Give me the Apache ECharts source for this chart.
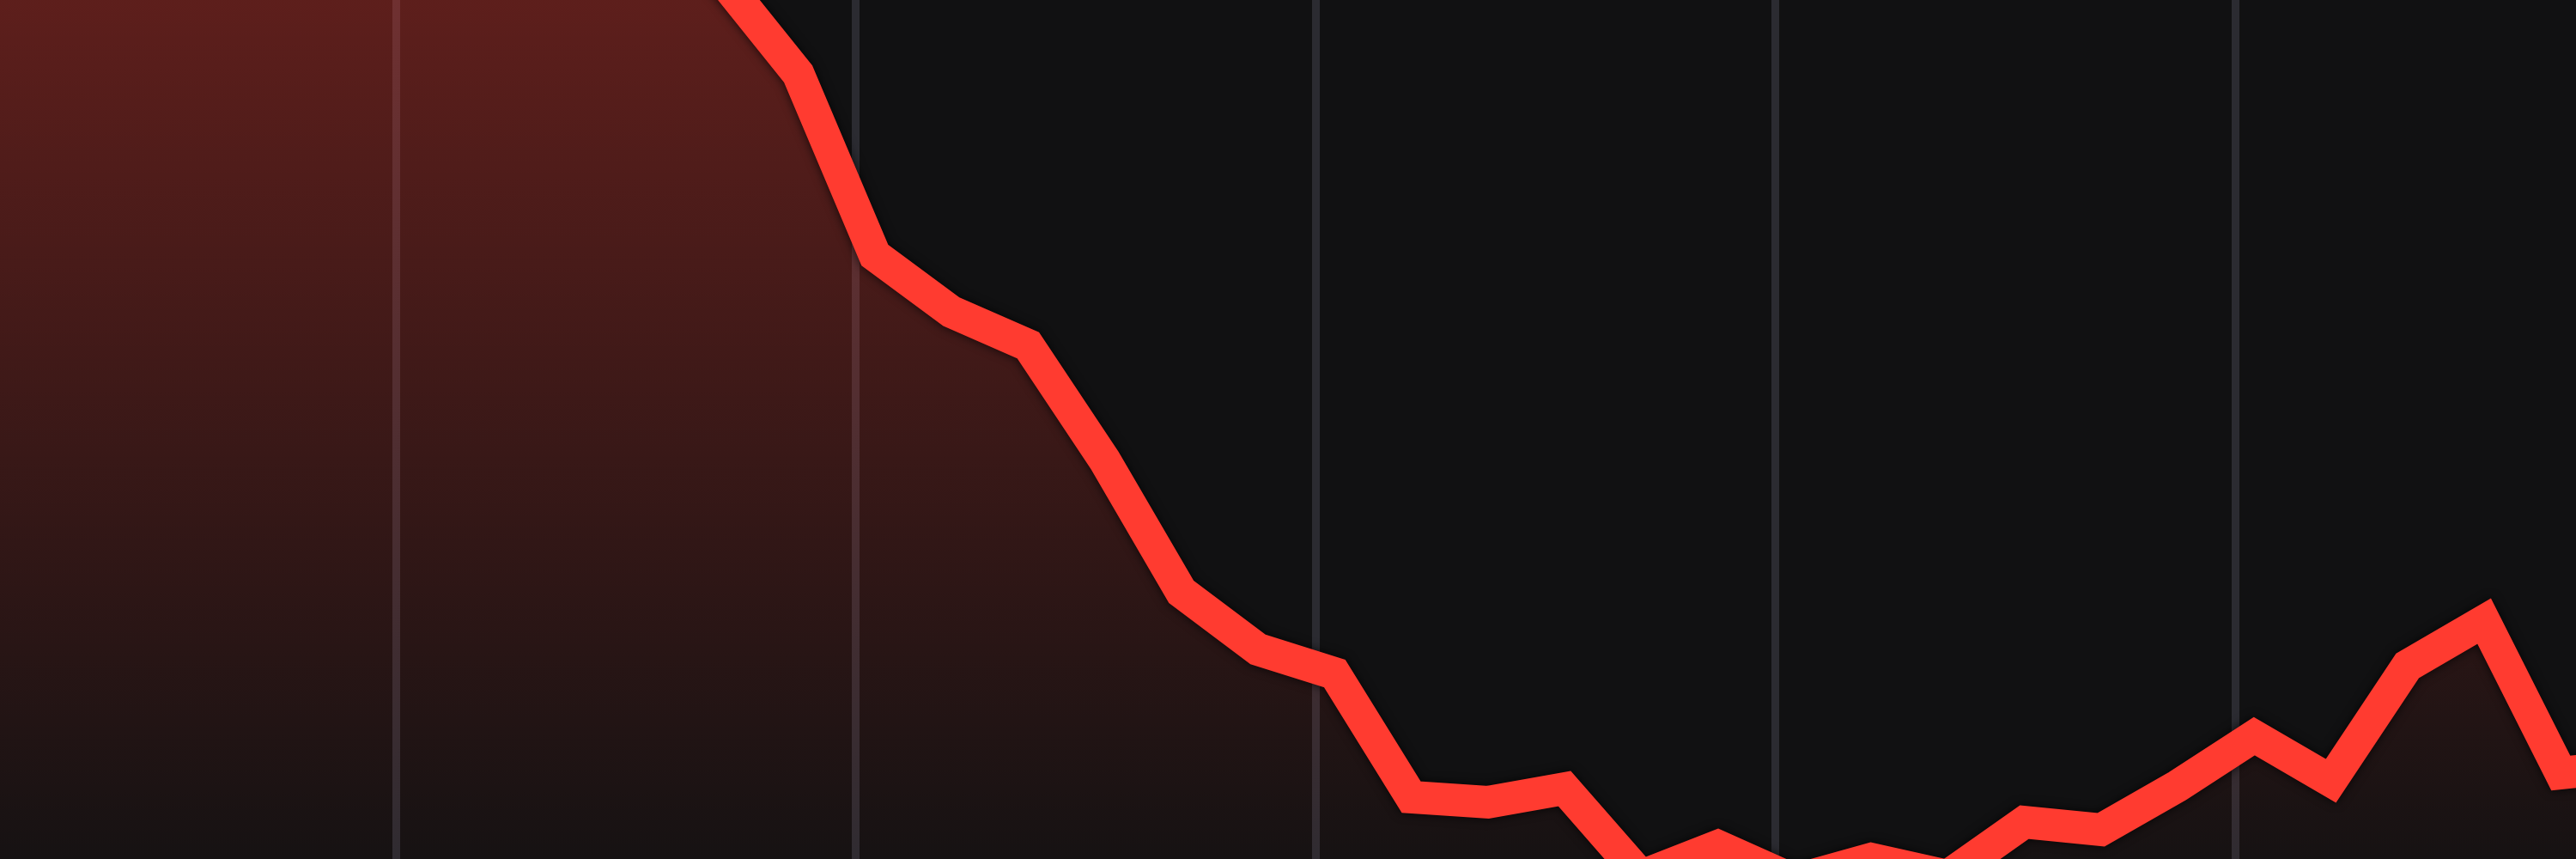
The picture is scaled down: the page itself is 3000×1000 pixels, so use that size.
<!DOCTYPE html>
<html>
<head>
<meta charset="utf-8">
<script src="https://cdn.jsdelivr.net/npm/echarts@6/dist/echarts.min.js"></script>
<style>
  html, body { margin: 0; padding: 0; background: #111112; }
  #main { width: 3000px; height: 1000px; }
</style>
</head>
<body>
<div id="main"></div>
<script>
// minutes from the start of the window, one reading every 10 min
var minutes = [2.5, 12.5, 22.5, 32.5, 42.5, 52.5, 62.5, 72.5, 82.5, 92.5, 102.5, 112.5,
    122.5, 132.5, 142.5, 152.5, 162.5, 172.5, 182.5, 192.5, 202.5, 212.5, 222.5, 232.5,
    242.5, 252.5, 262.5, 272.5, 282.5, 292.5, 302.5, 312.5, 322.5, 332.5, 342.5, 352.5];
var values = [125, 123, 126, 124, 122, 120, 119, 116, 113, 108, 102.5, 91.4,
    70.3, 63.7, 59.8, 46.4, 31.1, 24.4, 21.6, 7.2, 6.6, 8.2, -2.0, 1.5,
    -2.5, 0.0, -2.0, 4.3, 3.4, 8.5, 14.3, 9.1, 22.5, 27.7, 10.0, 11.0];
var xTicks = [0, 60, 120, 180, 240, 300, 360];

var points = [];
for (var i = 0; i < minutes.length; i++) {
    points.push([minutes[i], values[i]]);
}

var chart = echarts.init(document.getElementById('main'));
var option = {
    backgroundColor: '#111112',
    animation: false,
    grid: {
        left: -74.5,
        right: -138.5,
        top: -400,
        bottom: -200,
        containLabel: false,
        outerBoundsMode: 'none'
    },
    xAxis: {
        type: 'value',
        min: xTicks[0],
        max: xTicks[xTicks.length - 1],
        interval: 60,
        axisLine: { show: false },
        axisTick: { show: false },
        axisLabel: { show: false },
        splitLine: {
            show: true,
            lineStyle: { color: '#2b2b31', width: 9 }
        }
    },
    yAxis: {
        type: 'value',
        min: -20,
        max: 140,
        axisLine: { show: false },
        axisTick: { show: false },
        axisLabel: { show: false },
        splitLine: { show: false }
    },
    series: [
        {
            type: 'line',
            data: points,
            showSymbol: false,
            smooth: false,
            lineStyle: {
                color: '#ff3b30',
                width: 38,
                join: 'miter',
                shadowColor: 'rgba(0,0,0,0.75)',
                shadowBlur: 12
            },
            areaStyle: {
                origin: 'start',
                color: new echarts.graphic.LinearGradient(0, 0, 0, 1000, [
                    { offset: 0, color: 'rgba(255,59,48,0.46)' },
                    { offset: 0.5, color: 'rgba(255,59,48,0.25)' },
                    { offset: 1, color: 'rgba(255,59,48,0.03)' }
                ], true)
            }
        }
    ]
};
chart.setOption(option);
</script>
</body>
</html>
